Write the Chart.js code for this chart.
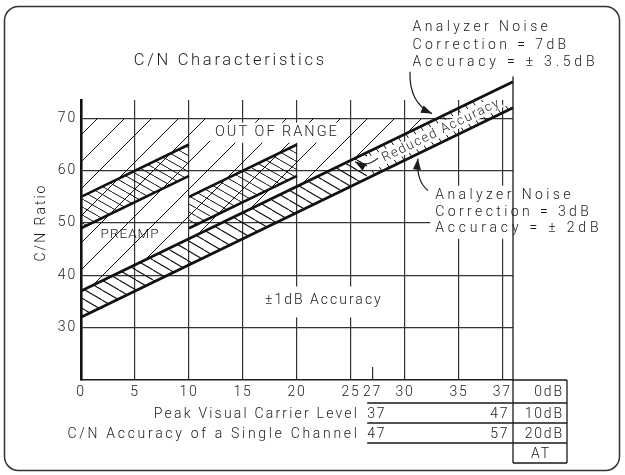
<!DOCTYPE html>
<html>
<head>
<meta charset="utf-8">
<title>C/N Characteristics</title>
<script src="https://cdn.jsdelivr.net/npm/chart.js@4.4.1/dist/chart.umd.min.js"></script>
<style>
  html, body { margin: 0; padding: 0; background: #fff; }
  #chart { display: block; }
</style>
</head>
<body>
<canvas id="chart" width="625" height="475"></canvas>
<script>
// ── Data ──────────────────────────────────────────────────────
const xTicks = [0, 5, 10, 15, 20, 25, 27, 30, 35, 39];
const xTickLabels = ['0', '5', '10', '15', '20', '25', '27', '30', '35', '37'];
const yTicks = [30, 40, 50, 60, 70];

// main band limits
const mainUpper = [{x: 0, y: 37}, {x: 40, y: 77}];
const mainLower = [{x: 0, y: 32}, {x: 40, y: 72}];
// hatched part of the main band
const hatchUpper = [{x: 0, y: 37}, {x: 26.5, y: 63.5}];
const hatchLower = [{x: 0, y: 32}, {x: 26.5, y: 58.5}];
// "reduced accuracy" part: ticks along both edges
const reducedUpper = [{x: 26.5, y: 63.5}, {x: 40, y: 77}];
const reducedUpperIn = [{x: 26.5, y: 62.45}, {x: 40, y: 75.95}];
const reducedLower = [{x: 26.5, y: 58.5}, {x: 40, y: 72}];
const reducedLowerIn = [{x: 26.5, y: 59.55}, {x: 40, y: 73.05}];
// out of range zone
const rangeTop = [{x: 0, y: 70}, {x: 33, y: 70}];
const rangeBase = [{x: 0, y: 37}, {x: 33, y: 70}];
// preamp bands
const pre1Upper = [{x: 0, y: 55}, {x: 10, y: 65}];
const pre1Lower = [{x: 0, y: 49}, {x: 10, y: 59}];
const pre2Upper = [{x: 10, y: 55}, {x: 20, y: 65}];
const pre2Lower = [{x: 10, y: 49}, {x: 20, y: 59}];

// table under the axis
const attRows = ['0dB', '10dB', '20dB', 'AT'];
const rowTitles = ['Peak Visual Carrier Level', 'C/N Accuracy of a Single Channel'];
const rowFrom = ['37', '47'];
const rowTo = ['47', '57'];

const note7 = ['Analyzer Noise', 'Correction = 7dB', 'Accuracy = \u00b1 3.5dB'];
const note3 = ['Analyzer Noise', 'Correction = 3dB', 'Accuracy = \u00b1 2dB'];

// ── Layout of labels (data units) ─────────────────────────────
const POS = {
  title: {x: 13.7, y: 81},
  yTitle: {x: -3.7, y: 49.9},
  outOfRange: {x: 18.05, y: 67.25},
  preamp: {x: 4.5, y: 47.8},
  acc1: {x: 22.4, y: 35.2},
  reduced: {x: 33.3, y: 67.6},
  note7: {x: 30.7, y: [87.3, 83.85, 80.7]},
  note3: {x: 32.8, y: [55.2, 52.05, 48.9]},
  arrow7: [{x: 30.46, y: 78.9}, {x: 30.37, y: 72.9}, {x: 32.5, y: 70.9}],
  arrow3: [{x: 32.13, y: 56.2}, {x: 31.0, y: 58.1}, {x: 31.2, y: 62.3}],
  arrowR: [{x: 27.5, y: 62.4}, {x: 26.4, y: 60.5}, {x: 25.37, y: 61.7}],
  tableLeft: 26.5, tableMid: 40, tableRight: 45, rowEnd: 39.5, rowTitleEnd: 25.55
};
const ROW_LINES = [0, 23, 43, 63, 83]; // px below the axis
const ROW_SPACING = [2.2, 2.7];
const FONT = 'Roboto, "Liberation Sans", Arial, sans-serif';
const W8 = 300;
const INK = '#1a1a1a';

// ── Hatch patterns ────────────────────────────────────────────
function hatch(w, h, dir, lw) {
  const c = document.createElement('canvas');
  c.width = w; c.height = h;
  const g = c.getContext('2d');
  g.strokeStyle = '#111';
  g.lineWidth = lw;
  g.beginPath();
  for (let k = -1; k <= 1; k++) {
    if (dir > 0) { g.moveTo(k * w, h); g.lineTo(k * w + w, 0); }
    else { g.moveTo(k * w, 0); g.lineTo(k * w + w, h); }
  }
  g.stroke();
  return g.createPattern(c, 'repeat');
}
const slashPat = hatch(27, 27, 1, 1);
const backPat = hatch(17, 10, -1, 1.1);
const backDense = hatch(14, 8, -1, 1);
const tickPat = hatch(10, 14, -1, 1);

function txt(ctx, s, X, Y, size, spacing, align) {
  ctx.font = W8 + ' ' + size + 'px ' + FONT;
  ctx.letterSpacing = spacing + 'px';
  ctx.textAlign = align || 'center';
  ctx.textBaseline = 'middle';
  const dx = align === 'left' ? 0 : align === 'right' ? spacing : spacing / 2;
  ctx.fillText(s, X + dx, Y);
}

function arrow(ctx, p0, c, p1) {
  ctx.beginPath();
  ctx.moveTo(p0.x, p0.y);
  ctx.quadraticCurveTo(c.x, c.y, p1.x, p1.y);
  ctx.stroke();
  const a = Math.atan2(p1.y - c.y, p1.x - c.x);
  const L = 11, W = 4;
  ctx.beginPath();
  ctx.moveTo(p1.x, p1.y);
  ctx.lineTo(p1.x - L * Math.cos(a) + W * Math.sin(a), p1.y - L * Math.sin(a) - W * Math.cos(a));
  ctx.lineTo(p1.x - L * Math.cos(a) - W * Math.sin(a), p1.y - L * Math.sin(a) + W * Math.cos(a));
  ctx.closePath();
  ctx.fill();
}

const decor = {
  id: 'decor',
  beforeDraw(chart) {
    const {ctx, width, height} = chart;
    ctx.save();
    ctx.fillStyle = '#fff';
    ctx.fillRect(0, 0, width, height);
    ctx.strokeStyle = '#333';
    ctx.lineWidth = 1.5;
    ctx.beginPath();
    ctx.roundRect(4.5, 6.5, width - 10, height - 11, 14);
    ctx.stroke();
    ctx.restore();
    ctx.letterSpacing = '1.8px';
  },
  afterDatasetsDraw(chart) {
    const {ctx, chartArea: a, scales} = chart;
    const X = v => scales.x.getPixelForValue(v);
    const Y = v => scales.y.getPixelForValue(v);
    const P = p => ({x: X(p.x), y: Y(p.y)});
    ctx.save();
    ctx.fillStyle = INK;
    ctx.strokeStyle = INK;

    // labels inside the plot, with white gaps
    ctx.font = W8 + ' 14.5px ' + FONT; ctx.letterSpacing = '2px';
    let w = ctx.measureText('OUT OF RANGE').width;
    ctx.fillStyle = '#fff';
    ctx.fillRect(X(POS.outOfRange.x) - w / 2 - 4, Y(POS.outOfRange.y) - 10, w + 8, 20);
    ctx.font = W8 + ' 14px ' + FONT; ctx.letterSpacing = '2px';
    w = ctx.measureText('\u00b11dB Accuracy').width;
    ctx.fillRect(X(POS.acc1.x) - w / 2 - 6, Y(POS.acc1.y) - 14, w + 12, 31);
    ctx.fillRect(X(POS.note3.x) - 5, Y(POS.note3.y[0]) - 10, 175, Y(POS.note3.y[2]) - Y(POS.note3.y[0]) + 20);
    ctx.fillStyle = INK;

    txt(ctx, 'OUT OF RANGE', X(POS.outOfRange.x), Y(POS.outOfRange.y), 14.5, 2);
    txt(ctx, 'PREAMP', X(POS.preamp.x), Y(POS.preamp.y), 13.5, 1);
    txt(ctx, '\u00b11dB Accuracy', X(POS.acc1.x), Y(POS.acc1.y), 14, 2);

    // rotated band label
    const p0 = P(mainUpper[0]), p1 = P(mainUpper[1]);
    const ang = Math.atan2(p1.y - p0.y, p1.x - p0.x);
    ctx.save();
    ctx.translate(X(POS.reduced.x), Y(POS.reduced.y));
    ctx.rotate(ang);
    ctx.font = W8 + ' 13px ' + FONT; ctx.letterSpacing = '1.5px';
    w = ctx.measureText('Reduced Accuracy').width;
    ctx.fillStyle = '#fff';
    ctx.fillRect(-w / 2 - 2, -6, w + 4, 12);
    ctx.fillStyle = INK;
    txt(ctx, 'Reduced Accuracy', 0, 0, 13, 1.5);
    ctx.restore();

    // notes
    note7.forEach((s, i) => txt(ctx, s, X(POS.note7.x), Y(POS.note7.y[i]), 14, i === 2 ? 3.8 : 3.4, 'left'));
    note3.forEach((s, i) => txt(ctx, s, X(POS.note3.x), Y(POS.note3.y[i]), 14, i === 2 ? 3.8 : 3.4, 'left'));
    ctx.lineWidth = 1.2;
    [POS.arrow7, POS.arrow3, POS.arrowR].forEach(ar => arrow(ctx, P(ar[0]), P(ar[1]), P(ar[2])));

    // title and y axis title
    txt(ctx, 'C/N Characteristics', X(POS.title.x), Y(POS.title.y), 16.5, 2.7);
    ctx.save();
    ctx.translate(X(POS.yTitle.x), Y(POS.yTitle.y));
    ctx.rotate(-Math.PI / 2);
    txt(ctx, 'C/N Ratio', 0, 0, 14, 2);
    ctx.restore();

    // short tick at 27
    ctx.strokeStyle = '#333';
    ctx.lineWidth = 1.2;
    ctx.beginPath();
    ctx.moveTo(X(27), a.bottom);
    ctx.lineTo(X(27), a.bottom - 13);
    ctx.stroke();

    // table
    const xl = X(POS.tableLeft), xm = X(POS.tableMid), xr = X(POS.tableRight);
    ctx.strokeStyle = INK;
    ctx.lineWidth = 1.3;
    ctx.beginPath();
    ctx.moveTo(xm, Y(78));
    ctx.lineTo(xm, a.bottom + ROW_LINES[4]);
    ctx.moveTo(xr, a.bottom);
    ctx.lineTo(xr, a.bottom + ROW_LINES[4]);
    ctx.moveTo(a.right, a.bottom);
    ctx.lineTo(xr, a.bottom);
    for (let i = 1; i < ROW_LINES.length; i++) {
      ctx.moveTo(i < 4 ? xl : xm, a.bottom + ROW_LINES[i]);
      ctx.lineTo(xr, a.bottom + ROW_LINES[i]);
    }
    ctx.stroke();

    attRows.forEach((s, i) => {
      const yc = a.bottom + (ROW_LINES[i] + ROW_LINES[i + 1]) / 2 + 1;
      if (s === 'AT') txt(ctx, s, (xm + xr) / 2, yc, 14, 1.8);
      else txt(ctx, s, xr - 5, yc, 14, 1.8, 'right');
    });
    rowTitles.forEach((s, i) => {
      const yc = a.bottom + (ROW_LINES[i + 1] + ROW_LINES[i + 2]) / 2 + 1;
      txt(ctx, s, X(POS.rowTitleEnd), yc, 14, ROW_SPACING[i], 'right');
      txt(ctx, rowFrom[i], xl, yc, 14, 1.8, 'left');
      txt(ctx, rowTo[i], X(POS.rowEnd), yc, 14, 1.8, 'right');
    });
    ctx.restore();
  }
};

function lineSet(data, extra) {
  return Object.assign({
    data,
    borderColor: '#111',
    borderWidth: 0,
    backgroundColor: 'rgba(0,0,0,0)',
    pointRadius: 0,
    fill: false,
    tension: 0
  }, extra || {});
}

const datasets = [
  lineSet(mainUpper, {borderWidth: 2.8, clip: false}),            // 0
  lineSet(mainLower, {borderWidth: 2.8, clip: false}),            // 1
  lineSet(pre1Upper, {borderWidth: 2.6, fill: 3, backgroundColor: backDense}), // 2
  lineSet(pre1Lower, {borderWidth: 2.6}),                         // 3
  lineSet(pre2Upper, {borderWidth: 2.6, fill: 5, backgroundColor: backDense}), // 4
  lineSet(pre2Lower, {borderWidth: 2.6}),                         // 5
  lineSet(rangeTop, {fill: 7, backgroundColor: slashPat}),        // 6
  lineSet(rangeBase),                                             // 7
  lineSet(hatchUpper, {fill: 9, backgroundColor: backPat}),       // 8
  lineSet(hatchLower),                                            // 9
  lineSet(reducedUpper, {fill: 11, backgroundColor: tickPat}),    // 10
  lineSet(reducedUpperIn),                                        // 11
  lineSet(reducedLower, {fill: 13, backgroundColor: tickPat}),    // 12
  lineSet(reducedLowerIn)                                         // 13
];

Chart.defaults.font.family = FONT;
Chart.defaults.font.weight = W8;
Chart.defaults.color = INK;

new Chart(document.getElementById('chart'), {
  type: 'line',
  data: { datasets },
  options: {
    responsive: false,
    animation: false,
    events: [],
    layout: { padding: { left: 0, top: 100, right: 112, bottom: 0 } },
    plugins: { legend: { display: false }, tooltip: { enabled: false } },
    scales: {
      x: {
        type: 'linear', min: 0, max: 40,
        afterBuildTicks: s => { s.ticks = xTicks.map(v => ({value: v})); },
        afterFit: s => { s.height = 95; },
        ticks: { callback: (v, i) => xTickLabels[i], autoSkip: false, maxRotation: 0, padding: 4, font: { size: 14, weight: W8 } },
        grid: { color: c => (c.tick && c.tick.value === 27) ? 'rgba(0,0,0,0)' : '#333', lineWidth: 1.2, drawTicks: false },
        border: { color: INK, width: 1.5 }
      },
      y: {
        type: 'linear', min: 20, max: 73.5,
        afterBuildTicks: s => { s.ticks = yTicks.map(v => ({value: v})); },
        afterFit: s => { s.width = 81; },
        ticks: { padding: 4, font: { size: 14, weight: W8 } },
        grid: { color: '#333', lineWidth: 1.2, drawTicks: false },
        border: { color: '#111', width: 2.6 }
      }
    }
  },
  plugins: [decor]
});
</script>
</body>
</html>
